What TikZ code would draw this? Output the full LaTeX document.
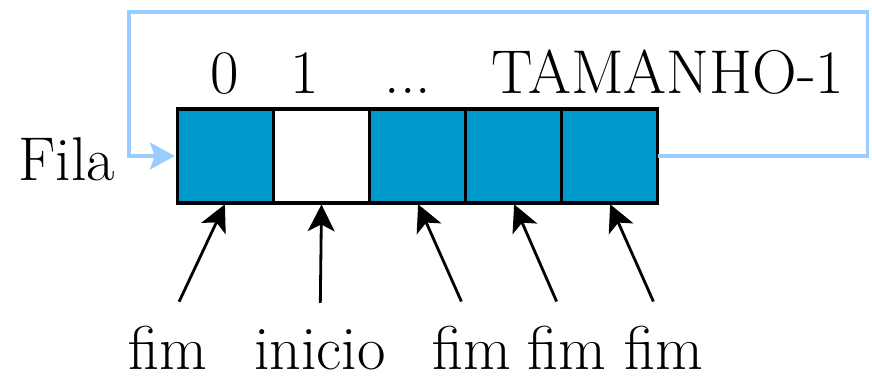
\documentclass[tikz,border=0pt]{standalone}
\usepackage{xcolor}
\usepackage{tikz}
\usetikzlibrary{positioning,arrows.meta}
\definecolor{cellblue}{RGB}{0,153,204}
\definecolor{linkblue}{RGB}{153,204,255}
\tikzset{
    cell/.style={draw, line width=2.2pt, outer sep=0pt, minimum width=2.4cm, minimum height=2.35cm, fill=cellblue},
    lbl/.style={anchor=base, inner sep=0pt, font=\fontsize{44}{52}\selectfont},
    ptr/.style={line width=2pt, -{Stealth[length=0.67cm,width=0.67cm,inset=0.17cm]}, shorten <=0.65cm, shorten >=1pt},
    link/.style={linkblue, line width=2.2pt, -{Stealth[length=0.62cm,width=0.68cm,inset=0.12cm]}, shorten >=2pt}
}

\begin{document}
\begin{tikzpicture}[x=0.025cm, y=-0.025cm]
    \useasboundingbox (0,0) rectangle (872,376);
    % vetor
    \node[cell] (c0) at (225.5,156) {};
    \node[cell, fill=white, right=0pt of c0] (c1) {};
    \node[cell, right=0pt of c1] (c2) {};
    \node[cell, right=0pt of c2] (c3) {};
    \node[cell, right=0pt of c3] (c4) {};
    % indices
    \node[lbl] (i0) at (225,93) {0};
    \node[lbl] (i1) at (305,93) {1};
    \node[lbl] (idots) at (408,93) {...};
    \node[lbl] (imax) at (668,93) {TAMANHO-1};
    \node[lbl] (fila) at (67,180) {Fila};
    % ligacao circular
    \draw[link] (c4.east) -- ++(210,0) |- (129,12) |- (c0.west);
    % ponteiros
    \node[lbl] (p0) at (168,369) {fim};
    \node[lbl] (p1) at (320,369) {inicio};
    \node[lbl] (p2) at (472,369) {fim};
    \node[lbl] (p3) at (567,369) {fim};
    \node[lbl] (p4) at (664,369) {fim};
    \draw[ptr] (p0.north) -- (c0.south);
    \draw[ptr] (p1.north) -- (c1.south);
    \draw[ptr] (p2.north) -- (c2.south);
    \draw[ptr] (p3.north) -- (c3.south);
    \draw[ptr] (p4.north) -- (c4.south);
\end{tikzpicture}
\end{document}
